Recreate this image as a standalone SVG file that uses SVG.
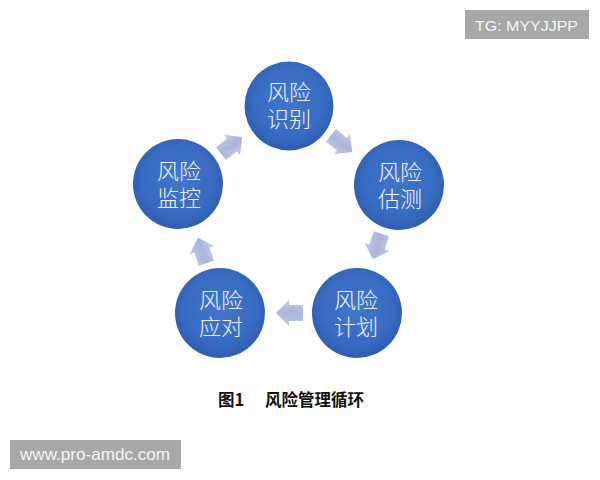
<svg xmlns="http://www.w3.org/2000/svg" width="600" height="480" viewBox="0 0 600 480">
  <defs>
    <radialGradient id="cg" cx="50%" cy="45%" r="55%">
      <stop offset="0" stop-color="#4276cc"/>
      <stop offset="0.7" stop-color="#386bc2"/>
      <stop offset="1" stop-color="#2e5dae"/>
    </radialGradient>
    <linearGradient id="ag" x1="0" y1="0" x2="0" y2="1">
      <stop offset="0" stop-color="#c3cbe6"/>
      <stop offset="0.5" stop-color="#aab5dc"/>
      <stop offset="1" stop-color="#c3cbe6"/>
    </linearGradient>
    <path id="arr" d="M-14,-8 L0,-8 L0,-13 L13,0 L0,13 L0,8 L-14,8 Z" fill="url(#ag)"/>
    <style>
      .node circle { fill: url(#cg); }
      .node text { font-family: "Noto Sans CJK SC", "Noto Sans", sans-serif; font-size: 22px; fill: #f2f4f8; text-anchor: middle; font-weight: 300; }
      .wm rect { fill: #a8a8a8; }
      .wm text { font-family: "Liberation Sans", Arial, sans-serif; fill: #f4f4f4; }
      .cap { font-family: "Noto Sans CJK SC", "Noto Sans", sans-serif; font-size: 16.5px; font-weight: bold; fill: #111; }
    </style>
  </defs>
  <rect width="600" height="480" fill="#ffffff"/>

  <g id="connectors">
    <use href="#arr" transform="translate(342,144) rotate(38)"/>
    <use href="#arr" transform="translate(377,247) rotate(108)"/>
    <use href="#arr" transform="translate(289,313) rotate(180)"/>
    <use href="#arr" transform="translate(202,250) rotate(-108)"/>
    <use href="#arr" transform="translate(232,145) rotate(-38)"/>
  </g>

  <g id="node-identify" class="node">
    <circle cx="289" cy="106" r="44.5"/>
    <text x="289" y="100">风险<tspan x="289" dy="27">识别</tspan></text>
  </g>
  <g id="node-assess" class="node">
    <circle cx="399" cy="185" r="45"/>
    <text x="400" y="180">风险<tspan x="400" dy="27">估测</tspan></text>
  </g>
  <g id="node-plan" class="node">
    <circle cx="357" cy="313" r="45"/>
    <text x="356" y="308">风险<tspan x="356" dy="27">计划</tspan></text>
  </g>
  <g id="node-respond" class="node">
    <circle cx="220" cy="313" r="45"/>
    <text x="221" y="308">风险<tspan x="221" dy="27">应对</tspan></text>
  </g>
  <g id="node-monitor" class="node">
    <circle cx="178" cy="184" r="45"/>
    <text x="179" y="179">风险<tspan x="179" dy="27">监控</tspan></text>
  </g>

  <g id="caption">
    <text class="cap" x="218" y="406">图1</text>
    <text class="cap" x="265" y="406">风险管理循环</text>
  </g>

  <g id="wm-tg" class="wm">
    <rect x="465" y="10" width="124" height="29"/>
    <text x="475" y="31" font-size="15.5" textLength="103" lengthAdjust="spacingAndGlyphs">TG: MYYJJPP</text>
  </g>
  <g id="wm-www" class="wm">
    <rect x="10" y="440" width="171" height="29"/>
    <text x="20" y="460" font-size="16.5" textLength="150" lengthAdjust="spacingAndGlyphs">www.pro-amdc.com</text>
  </g>
</svg>
